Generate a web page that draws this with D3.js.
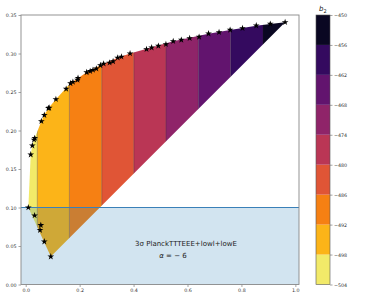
<!DOCTYPE html>
<html>
<head>
<meta charset="utf-8">
<script src="https://cdn.jsdelivr.net/npm/d3@7"></script>
<style>
  body { margin: 0; background: #fff; }
  svg { font-family: "DejaVu Sans", sans-serif; }
</style>
</head>
<body>
<div class="chart"></div>
<script>
// sample points on the boundary (x, y)
const starX = [0.0097, 0.033, 0.056, 0.053, 0.069, 0.093, 0.0186, 0.0246, 0.0335, 0.031,
  0.058, 0.069, 0.084, 0.087, 0.112, 0.150, 0.166, 0.175, 0.192, 0.194, 0.226, 0.239,
  0.2495, 0.262, 0.277, 0.289, 0.311, 0.324, 0.341, 0.355, 0.387, 0.448, 0.467, 0.492,
  0.520, 0.547, 0.577, 0.608, 0.643, 0.678, 0.717, 0.758, 0.804, 0.855, 0.907, 0.962];
const starY = [0.100, 0.0896, 0.077, 0.0706, 0.0558, 0.0363, 0.1687, 0.1804, 0.190, 0.188,
  0.212, 0.220, 0.229, 0.2295, 0.2406, 0.254, 0.2613, 0.263, 0.2657, 0.268, 0.2756, 0.277,
  0.2786, 0.2803, 0.2846, 0.2867, 0.288, 0.2898, 0.2945, 0.2958, 0.300, 0.3055, 0.3076, 0.3098,
  0.312, 0.3159, 0.3176, 0.3198, 0.3215, 0.3258, 0.3276, 0.3306, 0.3328, 0.3362, 0.3384, 0.3406];

// b2 colour levels and the x edges of the strips they cover
const b2Levels = [-504, -498, -492, -486, -480, -474, -468, -462, -456, -450];
const stripEdges = [-0.02, 0.043, 0.162, 0.282, 0.401, 0.520, 0.640, 0.760, 0.880, 1.0];

const xTicks = [0.0, 0.2, 0.4, 0.6, 0.8, 1.0];
const yTicks = [0.00, 0.05, 0.10, 0.15, 0.20, 0.25, 0.30, 0.35];
const yCut = 0.10;

const W = 374, H = 299;
const svg = d3.select('.chart').append('svg')
  .attr('width', W).attr('height', H);

const x = d3.scaleLinear().domain([-0.0175, 1.0135]).range([21, 299]);
const y = d3.scaleLinear().domain([0, 0.35]).range([284.5, 15]);

// colour of each bin (inferno, reversed)
const nBins = b2Levels.length - 1;
const binColor = i => d3.interpolateInferno(0.94 - i * 0.11);

// hull of the star points
const pts = starX.map((d, i) => [x(d), y(starY[i])]);
const hull = d3.polygonHull(pts);

svg.append('clipPath').attr('id', 'hull')
  .append('path').attr('d', 'M' + hull.join('L') + 'Z');

const g = svg.append('g').attr('clip-path', 'url(#hull)');
for (let i = 0; i < nBins; i++) {
  g.append('rect')
    .attr('x', x(stripEdges[i]))
    .attr('y', y(0.35))
    .attr('width', x(stripEdges[i + 1]) - x(stripEdges[i]))
    .attr('height', y(0) - y(0.35))
    .attr('fill', binColor(i));
}
stripEdges.slice(1, -1).forEach(e => {
  g.append('line')
    .attr('x1', x(e)).attr('x2', x(e))
    .attr('y1', y(0)).attr('y2', y(0.35))
    .attr('stroke', '#222').attr('stroke-width', 0.6)
    .attr('stroke-dasharray', '1,1');
});

// shaded exclusion region
svg.append('rect')
  .attr('x', x.range()[0]).attr('y', y(yCut))
  .attr('width', x.range()[1] - x.range()[0])
  .attr('height', y(0) - y(yCut))
  .attr('fill', '#1f77b4').attr('fill-opacity', 0.2);
svg.append('line')
  .attr('x1', x.range()[0]).attr('x2', x.range()[1])
  .attr('y1', y(yCut)).attr('y2', y(yCut))
  .attr('stroke', '#3a80b8').attr('stroke-width', 1);

// stars
svg.selectAll('.star').data(pts).enter().append('path')
  .attr('class', 'star')
  .attr('d', d3.symbol().type(d3.symbolStar).size(14))
  .attr('transform', d => `translate(${d[0]},${d[1]})`)
  .attr('fill', '#000');

// axes
const xAxis = d3.axisBottom(x).tickValues(xTicks).tickFormat(d3.format('.1f'))
  .tickSize(2.5).tickPadding(2);
const yAxis = d3.axisLeft(y).tickValues(yTicks).tickFormat(d3.format('.2f'))
  .tickSize(2.5).tickPadding(2);
svg.append('g').attr('transform', `translate(0,${y(0)})`).call(xAxis);
svg.append('g').attr('transform', `translate(${x.range()[0]},0)`).call(yAxis);
svg.selectAll('.tick text').attr('font-size', 4.8).attr('fill', '#333')
  .attr('font-family', '"DejaVu Sans", sans-serif');
svg.selectAll('.tick line').attr('stroke', '#666').attr('stroke-width', 0.6);
svg.selectAll('.domain').remove();

// frame
svg.append('rect')
  .attr('x', x.range()[0]).attr('y', y(0.35))
  .attr('width', x.range()[1] - x.range()[0])
  .attr('height', y(0) - y(0.35))
  .attr('fill', 'none').attr('stroke', '#888').attr('stroke-width', 0.9);

// annotation
svg.append('text').attr('x', 186).attr('y', 246)
  .attr('text-anchor', 'middle').attr('font-size', 7).attr('fill', '#222')
  .text('3σ PlanckTTTEEE+lowl+lowE');
const t2 = svg.append('text').attr('x', 173).attr('y', 258)
  .attr('text-anchor', 'middle').attr('font-size', 7).attr('fill', '#222');
t2.append('tspan').attr('font-style', 'italic').text('α');
t2.append('tspan').text(' = \u2212 6');

// colorbar
const cb = d3.scaleLinear().domain([-504, -450]).range([284.5, 15]);
const cbX = 316, cbW = 14;
for (let i = 0; i < nBins; i++) {
  svg.append('rect')
    .attr('x', cbX).attr('y', cb(b2Levels[i + 1]))
    .attr('width', cbW).attr('height', cb(b2Levels[i]) - cb(b2Levels[i + 1]))
    .attr('fill', binColor(i));
}
svg.append('rect')
  .attr('x', cbX).attr('y', cb(-450)).attr('width', cbW)
  .attr('height', cb(-504) - cb(-450))
  .attr('fill', 'none').attr('stroke', '#555').attr('stroke-width', 0.6);
const cbAxis = d3.axisRight(cb).tickValues(b2Levels)
  .tickFormat(d => d3.format('d')(d).replace('-', '\u2212'))
  .tickSize(2.5).tickPadding(1.5);
const cbG = svg.append('g').attr('transform', `translate(${cbX + cbW},0)`).call(cbAxis);
cbG.select('.domain').remove();
cbG.selectAll('text').attr('font-size', 4.8).attr('fill', '#333')
  .attr('font-family', '"DejaVu Sans", sans-serif');
cbG.selectAll('line').attr('stroke', '#666').attr('stroke-width', 0.6);

const lab = svg.append('text').attr('x', 319).attr('y', 11)
  .attr('font-size', 7).attr('fill', '#222');
lab.append('tspan').attr('font-style', 'italic').text('b');
lab.append('tspan').attr('font-size', 5).attr('dy', 1.5).text('2');
</script>
</body>
</html>
